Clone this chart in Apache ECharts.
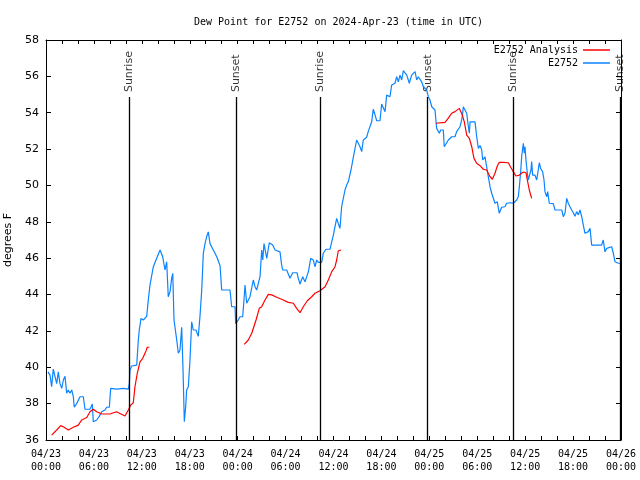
<!DOCTYPE html>
<html>
<head>
<meta charset="utf-8">
<script src="https://cdn.jsdelivr.net/npm/echarts@6/dist/echarts.min.js"></script>
<style>html,body{margin:0;padding:0;background:#fff}#c{width:640px;height:480px}</style>
</head>
<body>
<div id="c"></div>
<script>
// Hours since 2024-04-23 00:00 UTC, dew point (deg F)
const e2752 = [
[0.25,39.75],[0.5,39.57],[0.71,38.93],[0.91,39.9],[1.13,39.48],[1.34,39.1],[1.54,39.75],[1.75,39.1],[1.97,38.84],[2.17,39.3],
[2.38,39.5],[2.59,38.57],[2.79,38.75],[3.0,38.57],[3.22,38.75],[3.42,38.38],[3.54,37.8],[3.84,38.0],[4.26,38.38],[4.67,38.38],
[4.88,37.69],[5.51,37.69],[5.8,37.98],[5.92,37.0],[6.35,37.1],[6.67,37.3],[6.97,37.55],[7.39,37.65],[7.6,37.8],[7.93,37.8],
[8.1,38.84],[8.85,38.8],[9.68,38.84],[10.31,38.8],[10.43,39.1],[10.52,39.85],[10.73,40.07],[11.36,40.12],[11.56,41.5],[11.68,42.05],
[11.9,42.69],[12.18,42.6],[12.61,42.8],[12.81,43.7],[13.02,44.52],[13.44,45.53],[13.77,45.9],[14.28,46.45],[14.61,46.08],[14.9,45.35],
[15.11,45.8],[15.31,43.88],[15.53,44.16],[15.74,44.9],[15.87,45.17],[16.03,42.6],[16.37,41.5],[16.57,40.77],[16.78,40.95],[16.99,42.2],
[17.15,40.0],[17.32,37.0],[17.49,37.83],[17.61,38.75],[17.82,38.93],[18.03,40.4],[18.24,42.5],[18.44,42.05],[18.78,42.05],[19.07,41.7],
[19.28,42.8],[19.5,44.25],[19.7,46.27],[19.91,46.8],[20.12,47.18],[20.32,47.45],[20.54,46.8],[20.75,46.85],[20.95,46.45],[21.38,46.08],
[21.79,45.6],[22.0,44.25],[23.04,44.25],[23.25,43.33],[23.67,43.33],[23.75,42.4],[24.08,42.6],[24.29,42.78],[24.63,42.78],[24.79,43.7],
[24.92,44.52],[25.13,43.52],[25.33,43.52],[25.54,43.88],[25.96,44.8],[26.17,44.43],[26.38,44.25],[26.8,44.98],[27.01,46.45],[27.14,45.9],
[27.3,46.8],[27.64,45.99],[27.96,46.85],[28.39,46.72],[28.68,46.45],[29.3,46.35],[29.51,45.62],[29.64,45.35],[30.14,45.35],[30.34,45.25],
[30.55,44.9],[30.89,45.2],[31.43,45.2],[31.59,44.9],[31.81,44.58],[32.14,44.98],[32.43,44.7],[32.64,44.6],[32.85,45.25],[33.15,45.99],
[33.47,45.9],[33.68,45.53],[33.9,45.9],[34.1,45.77],[34.52,45.77],[34.72,46.27],[35.06,46.49],[35.56,46.49],[35.78,46.9],[35.98,47.27],
[36.19,47.73],[36.4,48.19],[36.6,47.9],[36.81,47.64],[37.02,48.83],[37.44,49.75],[37.65,50.02],[37.85,50.2],[38.06,50.2],[38.19,50.85],
[38.48,51.54],[38.69,51.54],[38.9,52.5],[39.11,52.4],[39.32,52.13],[39.53,51.86],[39.73,52.5],[39.94,52.4],[40.15,52.65],[40.35,52.96],
[40.57,53.0],[40.78,53.5],[40.98,54.19],[41.19,53.9],[41.41,53.56],[41.82,53.56],[42.03,54.48],[42.24,54.4],[42.45,54.06],[42.66,54.97],
[42.86,55.0],[43.07,54.88],[43.28,55.52],[43.7,55.62],[43.91,55.98],[44.12,55.7],[44.33,56.07],[44.54,55.8],[44.74,56.31],[44.95,56.3],
[45.17,56.07],[45.37,55.8],[45.49,55.62],[45.79,56.07],[45.99,55.98],[46.21,56.26],[46.42,55.8],[46.62,55.98],[46.83,56.07],[47.04,55.7],
[47.25,55.43],[47.46,55.52],[47.67,55.25],[47.87,54.88],[48.08,54.7],[48.3,54.33],[48.5,54.24],[48.71,54.15],[48.84,53.5],[48.92,53.14],
[49.13,53.23],[49.25,52.87],[49.34,52.87],[49.42,53.05],[49.75,53.05],[49.87,52.13],[50.03,52.2],[50.38,52.5],[50.8,52.68],[51.21,52.68],
[51.42,52.96],[51.63,52.87],[51.84,53.23],[52.05,53.6],[52.18,53.97],[52.25,54.33],[52.46,54.33],[52.68,53.97],[52.89,53.23],[53.01,52.87],
[53.1,53.5],[53.72,53.5],[53.93,52.68],[54.14,52.04],[54.35,52.2],[54.56,51.95],[54.68,51.4],[54.97,51.58],[55.18,51.03],[55.38,50.48],
[55.6,49.93],[55.81,49.57],[56.01,49.57],[56.22,49.02],[56.43,48.93],[56.51,49.1],[56.76,48.47],[56.97,48.47],[57.06,48.8],[57.47,48.83],
[57.68,49.02],[58.1,49.05],[58.52,49.02],[58.94,49.2],[59.14,49.38],[59.27,49.93],[59.44,50.75],[59.56,51.58],[59.77,52.32],[59.89,51.77],
[59.98,52.13],[60.1,51.4],[60.27,50.67],[60.39,50.3],[60.61,50.67],[60.73,50.85],[60.81,51.31],[60.94,50.57],[61.23,50.57],[61.44,50.3],
[61.64,50.85],[61.77,51.25],[61.94,50.94],[62.19,50.75],[62.36,50.3],[62.48,49.66],[62.7,49.38],[62.82,49.66],[63.02,49.02],[63.52,49.0],
[63.74,48.65],[64.58,48.65],[64.78,48.28],[64.99,48.47],[65.2,49.29],[65.4,49.02],[65.61,48.83],[65.83,48.65],[66.03,48.5],[66.24,48.3],
[66.45,48.56],[66.66,48.38],[66.86,48.65],[67.08,48.28],[67.28,47.82],[67.49,47.37],[67.91,47.46],[68.12,47.64],[68.33,46.72],[69.58,46.72],
[69.78,47.0],[69.99,46.35],[70.21,46.54],[70.41,46.63],[70.83,46.63],[71.04,46.27],[71.25,45.8],[71.66,45.72],[71.87,45.72]
];
const analysisDay1 = [
[0.71,36.27],[0.91,36.27],[1.34,36.55],[1.84,36.79],[2.17,36.73],[2.79,36.55],[3.42,36.7],[4.04,36.82],[4.47,37.1],[5.1,37.24],
[5.51,37.55],[5.92,37.69],[6.35,37.55],[6.97,37.43],[8.01,37.43],[8.43,37.5],[8.85,37.55],[9.27,37.46],[9.89,37.32],[10.11,37.4],
[10.31,37.65],[10.61,37.92],[10.93,38.05],[11.14,38.93],[11.43,39.67],[11.77,40.3],[12.11,40.49],[12.52,40.9],[12.68,41.1],[12.94,41.1]
];
const analysisDay2 = [
[24.83,41.26],[25.33,41.5],[25.76,41.87],[25.96,41.95],[26.3,42.6],[26.71,43.24],[27.01,43.33],[27.42,43.7],[27.84,44.01],[28.26,43.98],
[28.89,43.85],[29.72,43.7],[30.34,43.57],[30.97,43.52],[31.39,43.24],[31.81,43.0],[32.22,43.33],[32.72,43.66],[33.27,43.88],[33.68,44.07],
[34.31,44.21],[34.94,44.43],[35.35,44.8],[35.78,45.26],[35.98,45.3],[36.19,45.53],[36.4,45.9],[36.6,46.41],[36.94,46.45]
];
const analysisDay3 = [
[48.84,53.42],[49.96,53.47],[50.38,53.7],[50.8,53.97],[51.21,54.06],[51.75,54.24],[51.93,54.2],[52.13,53.87],[52.38,53.5],[52.68,52.77],
[53.01,52.59],[53.31,52.13],[53.59,51.49],[53.93,51.22],[54.35,51.09],[54.76,50.89],[55.18,50.85],[55.6,50.48],[55.89,50.34],[56.22,50.67],
[56.51,51.07],[56.76,51.27],[57.26,51.27],[57.89,51.25],[58.19,51.0],[58.52,50.75],[58.85,50.52],[59.27,50.57],[59.77,50.74],[60.1,50.7],
[60.27,50.3],[60.52,49.75],[60.81,49.29]
];
const sunTimes = [10.4, 23.8, 34.3, 47.8, 58.5, 71.9];
const sunNames = ['Sunrise','Sunset','Sunrise','Sunset','Sunrise','Sunset'];
const dayLabels = ['04/23','04/24','04/25','04/26'];
const sunLineTop = 54.86;

const mono = 'DejaVu Sans Mono';
const sans = 'DejaVu Sans';
function xFmt(v){
  const d = Math.floor(v/24 + 1e-9);
  const hh = Math.round(v - d*24);
  return dayLabels[d] + '\n' + String(hh).padStart(2,'0') + ':00';
}
const axisBase = {
  axisLine:{show:true,onZero:false,lineStyle:{color:'#000',width:1}},
  splitLine:{show:false}
};
const chart = echarts.init(document.getElementById('c'), null, {renderer:'canvas'});
const sunPairs = sunTimes.map(t => [{coord:[t,36]},{coord:[t,sunLineTop]}]);
const redStyle = {type:'line',name:'E2752 Analysis',showSymbol:false,symbol:'none',
  lineStyle:{color:'#ff0000',width:1.2},itemStyle:{color:'#ff0000'},xAxisIndex:0,yAxisIndex:0,z:4};
chart.setOption({
  animation:false,
  backgroundColor:'#fff',
  title:{text:'Dew Point for E2752 on 2024-Apr-23 (time in UTC)',left:189,top:12,
    textStyle:{fontFamily:mono,fontSize:10,fontWeight:'normal',color:'#000'}},
  legend:{orient:'vertical',right:25,top:40,align:'right',itemGap:3,itemWidth:27,itemHeight:1.5,
    icon:'rect',data:['E2752 Analysis','E2752'],
    textStyle:{fontFamily:mono,fontSize:10,color:'#000'}},
  grid:{left:46,right:19,top:40,bottom:40,containLabel:false,outerBoundsMode:'none'},
  xAxis:[
    Object.assign({type:'value',min:0,max:72,interval:6,position:'bottom',
      axisTick:{show:true,inside:true,length:4,lineStyle:{color:'#000'}},
      minorTick:{show:true,splitNumber:3,length:4,lineStyle:{color:'#000'}},
      axisLabel:{show:true,formatter:xFmt,margin:8,fontFamily:mono,fontSize:10,color:'#000',lineHeight:13,hideOverlap:false}},axisBase),
    Object.assign({type:'value',min:0,max:72,interval:6,position:'top',
      axisTick:{show:true,inside:true,length:4,lineStyle:{color:'#000'}},
      minorTick:{show:true,splitNumber:3,length:4,lineStyle:{color:'#000'}},
      axisLabel:{show:false}},axisBase)
  ],
  yAxis:[
    Object.assign({type:'value',min:36,max:58,interval:2,position:'left',
      name:'degrees F',nameLocation:'middle',nameGap:30,nameRotate:90,
      nameTextStyle:{fontFamily:sans,fontSize:11,color:'#000'},
      axisTick:{show:true,inside:true,length:5,lineStyle:{color:'#000'}},
      axisLabel:{show:true,margin:7,fontFamily:sans,fontSize:11,color:'#000'}},axisBase),
    Object.assign({type:'value',min:36,max:58,interval:2,position:'right',
      axisTick:{show:true,inside:true,length:5,lineStyle:{color:'#000'}},
      axisLabel:{show:false}},axisBase)
  ],
  series:[
    {type:'scatter',name:'sun',symbolSize:0,xAxisIndex:0,yAxisIndex:0,silent:true,z:2,
      data:sunTimes.map((t,i)=>({value:[t,sunLineTop],name:sunNames[i]})),
      label:{show:true,position:'top',distance:5,rotate:90,align:'left',verticalAlign:'middle',
        formatter:p=>p.name,fontFamily:sans,fontSize:11,color:'#000'},
      markLine:{silent:true,symbol:['none','none'],label:{show:false},
        lineStyle:{color:'#000',width:1.3,type:'solid'},data:sunPairs}},
    {type:'line',name:'E2752',data:e2752,showSymbol:false,symbol:'none',
      lineStyle:{color:'#0a84ff',width:1.2},itemStyle:{color:'#0a84ff'},xAxisIndex:0,yAxisIndex:0,z:3},
    Object.assign({data:analysisDay1},redStyle),
    Object.assign({data:analysisDay2},redStyle),
    Object.assign({data:analysisDay3},redStyle)
  ]
});
</script>
</body>
</html>
